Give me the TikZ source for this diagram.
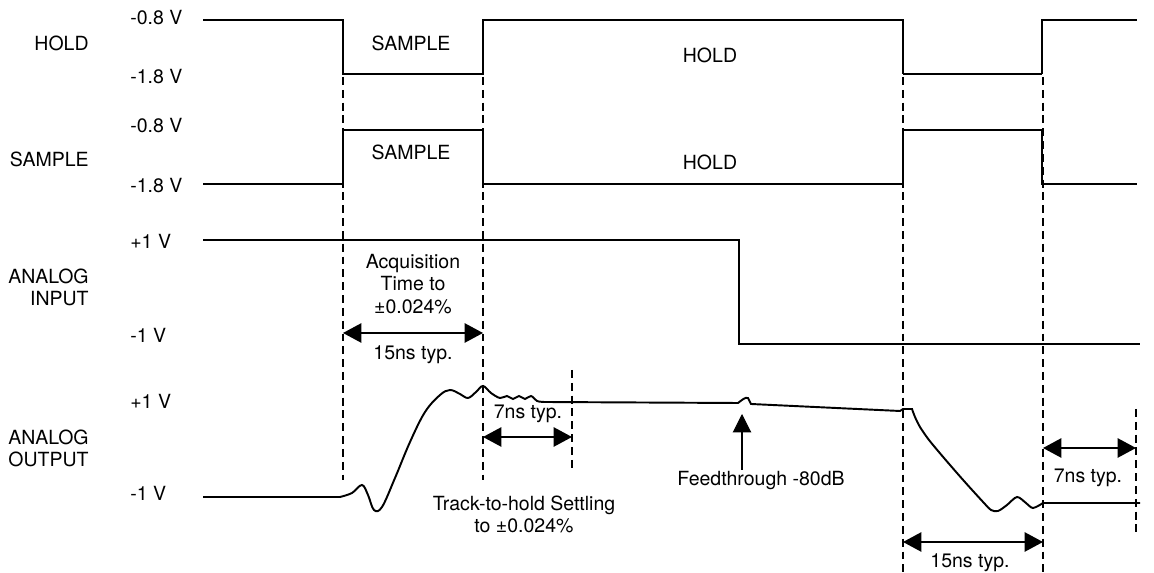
\documentclass[tikz,border=0pt]{standalone}
\usepackage{fontspec}
\setmainfont{TeX Gyre Heros}
\usetikzlibrary{arrows.meta}

\begin{document}
\begin{tikzpicture}[
                x = 0.02cm, y = -0.02cm,
                txt/.style = {inner sep = 0mm, font = \fontsize{11.1}{12.6}\selectfont, align = center},
                sidelbl/.style = {txt, anchor = east, align = right},
                volt/.style = {txt, anchor = west},
                sig/.style = {draw, line width = 1.1pt},
                thinsig/.style = {draw, line width = 0.7pt},
                guide/.style = {draw, line width = 0.7pt, dash pattern = on 4.5pt off 2.8pt},
                dim/.style = {draw, line width = 1.1pt, {Triangle[length = 10.5pt, width = 11pt]}-{Triangle[length = 10.5pt, width = 11pt]}},
                ptr/.style = {draw, line width = 0.6pt, -{Triangle[length = 10.5pt, width = 10.5pt]}},
            ]
            \useasboundingbox (0,0) rectangle (1154,573);

            \node (hold) [sidelbl] at (89,43) {HOLD};
            \node (sample) [sidelbl] at (89,159) {SAMPLE};
            \node (ain) [sidelbl] at (89,287) {ANALOG\\INPUT};
            \node (aout) [sidelbl] at (89,448) {ANALOG\\OUTPUT};

            \node (v1) [volt] at (130,18) {-0.8 V};
            \node (v2) [volt] at (130,77) {-1.8 V};
            \node (v3) [volt] at (130,126) {-0.8 V};
            \node (v4) [volt] at (130,186) {-1.8 V};
            \node (v5) [volt] at (130,241) {+1 V};
            \node (v6) [volt] at (130,335) {-1 V};
            \node (v7) [volt] at (130,401) {+1 V};
            \node (v8) [volt] at (130,493) {-1 V};

            \node (hs) [txt] at (411,43) {SAMPLE};
            \node (hh) [txt] at (710,55) {HOLD};
            \node (ss) [txt] at (411,152) {SAMPLE};
            \node (sh) [txt] at (710,162) {HOLD};

            \path[sig] (203,20) -- (343,20) -- (343,74) -- (483,74) -- (483,20) -- (903,20) -- (903,74);
            \path[thinsig] (903,74) -- (1042,74);
            \path[sig] (1042,74) -- (1042,20) -- (1137,20);

            \path[sig] (203,184) -- (343,184) -- (343,130) -- (483,130) -- (483,184) -- (903,184)
                -- (903,130) -- (1042,130) -- (1042,184) -- (1137,184);

            \path[sig] (203,240) -- (739,240) -- (739,344) -- (1140,344);

            \path[sig] (203,497) -- plot[smooth, tension = 0.6] coordinates {(340,497) (352,493) (362,485)
                (368,495) (374,510) (382,507) (395,478) (410,442) (425,412) (440,395) (450,390) (460,394)
                (468,398) (476,392) (483,386) (491,393) (500,398) (507,396) (513,399) (519,396) (525,399)
                (531,396) (537,401) (545,402)} -- (738,403) .. controls (742,400) and (745,397) .. (748,398)
                -- (751,404) -- (900,411) -- (903,409) -- (912,409) -- plot[smooth, tension = 0.5] coordinates {
                (912,409) (915,417) (920,427) (929,440) (944,458) (964,481) (984,503) (991,510) (998,511)
                (1007,505) (1017,497) (1026,503) (1033,508) (1043,503)} -- (1140,503);

            \path[guide] (343,77) -- (343,480);
            \path[guide] (483,77) -- (483,480);
            \path[guide] (903,77) -- (903,573);
            \path[guide] (1043,77) -- (1043,573);
            \path[guide] (572,370) -- (572,470);
            \path[guide] (1136,409) -- (1136,535);

            \coordinate (a1) at (343,333);
            \coordinate (a2) at (483,333);
            \coordinate (b1) at (483,437);
            \coordinate (b2) at (572,437);
            \coordinate (c1) at (903,542);
            \coordinate (c2) at (1043,542);
            \coordinate (d1) at (1043,448);
            \coordinate (d2) at (1136,448);
            \coordinate (f1) at (742,470);
            \coordinate (f2) at (742,414);

            \node (acq) [txt] at (413,284) {Acquisition\\Time to\\±0.024\%};
            \node (acqt) [txt] at (413,355) {15ns typ.};
            \node (set) [txt] at (528,414) {7ns typ.};
            \node (trk) [txt] at (524,514) {Track-to-hold Settling\\to ±0.024\%};
            \node (feed) [txt] at (761,481) {Feedthrough -80dB};
            \node (fall) [txt] at (970,563) {15ns typ.};
            \node (set2) [txt] at (1088,478) {7ns typ.};

            \path[dim] (a1) -- (a2);
            \path[dim] (b1) -- (b2);
            \path[dim] (c1) -- (c2);
            \path[dim] (d1) -- (d2);
            \path[ptr] (f1) -- (f2);
        \end{tikzpicture}
\end{document}
